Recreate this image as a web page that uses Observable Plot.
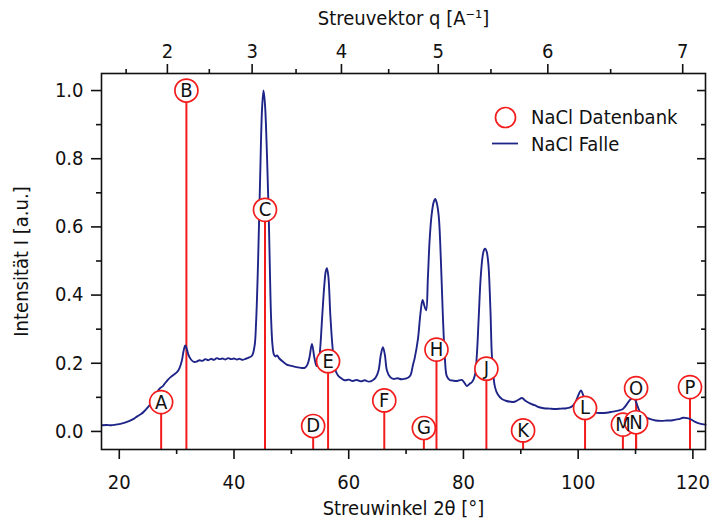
<!DOCTYPE html>
<html><head><meta charset="utf-8">
<script src="https://cdn.jsdelivr.net/npm/d3@7"></script>
<script src="https://cdn.jsdelivr.net/npm/@observablehq/plot@0.6"></script>
<style>
body{margin:0;background:#fff;}
#wrap{position:relative;width:712px;height:521px;}
.leg{position:absolute;font-family:'DejaVu Sans Condensed','DejaVu Sans',sans-serif;font-size:20px;color:#111;line-height:1;white-space:nowrap;}
</style>
</head><body><div id="wrap"></div>
<script>
// ---- data ----
const lambda = 1.5406; // Cu K-alpha, Å
const peakLabels = ["A","B","C","D","E","F","G","H","J","K","L","M","N","O","P"];
const peakAngles = [27.3,31.7,45.4,53.8,56.4,66.2,73.1,75.3,84.0,90.4,101.2,107.8,110.1,110.1,119.5];
const peakIntensities = [0.086,1.0,0.65,0.016,0.206,0.091,0.01,0.24,0.184,0.003,0.069,0.02,0.027,0.127,0.13];

const curveAngles = [17.0,17.8,18.6,19.4,20.2,21.0,21.8,22.5,23.2,23.8,24.4,25.0,25.5,26.0,26.5,26.85,27.2,27.6,28.0,28.5,29.0,29.6,30.1,30.5,30.9,31.2,31.5,31.8,32.1,32.5,33.0,33.5,34.0,34.5,35.0,35.5,36.0,36.5,37.0,37.5,38.0,38.5,39.0,39.5,40.0,40.5,41.0,41.5,42.0,42.5,43.13,43.58,43.85,44.2,44.55,44.9,45.15,45.4,45.75,46.03,46.25,46.45,46.7,46.95,47.2,47.5,47.9,48.5,49.2,49.8,50.5,51.2,51.8,52.4,52.8,53.17,53.59,54.0,54.4,54.74,55.04,55.35,55.75,56.0,56.2,56.45,56.8,57.18,57.6,58.1,58.7,59.3,60.0,60.7,61.4,62.1,62.8,63.5,64.2,64.7,65.2,65.6,65.96,66.3,66.66,67.2,67.8,68.5,69.2,69.9,70.4,70.8,71.2,71.5,72.06,72.5,72.87,73.2,73.5,73.8,74.1,74.45,74.8,75.08,75.35,75.7,76.05,76.4,76.75,77.1,77.6,78.2,78.9,79.7,80.2,80.6,81.1,81.5,82.0,82.35,82.65,83.0,83.35,83.6,83.8,84.05,84.35,84.7,85.0,85.5,86.0,86.7,87.4,88.2,88.9,89.6,90.2,90.8,91.6,92.4,93.2,94.0,95.0,96.0,97.0,98.0,98.8,99.5,100.0,100.5,100.9,101.5,102.2,103.0,104.0,105.0,106.0,107.0,107.8,108.5,109.0,109.5,109.9,110.4,111.0,111.8,112.6,113.5,114.5,115.5,116.5,117.5,118.3,119.0,119.7,120.4,121.2,122.2];
const curveIntensities = [0.018,0.019,0.018,0.020,0.022,0.026,0.031,0.037,0.045,0.051,0.060,0.071,0.082,0.098,0.112,0.122,0.128,0.133,0.142,0.152,0.160,0.168,0.175,0.186,0.207,0.235,0.252,0.240,0.223,0.211,0.204,0.205,0.209,0.207,0.212,0.209,0.213,0.210,0.215,0.212,0.214,0.211,0.215,0.212,0.214,0.211,0.213,0.210,0.213,0.216,0.222,0.250,0.320,0.500,0.740,0.950,1.0,0.960,0.810,0.650,0.480,0.340,0.255,0.226,0.220,0.223,0.214,0.205,0.196,0.193,0.190,0.188,0.186,0.187,0.196,0.218,0.257,0.218,0.192,0.200,0.247,0.330,0.430,0.470,0.479,0.455,0.340,0.247,0.185,0.165,0.156,0.150,0.152,0.148,0.151,0.147,0.150,0.146,0.150,0.158,0.179,0.225,0.247,0.225,0.179,0.160,0.154,0.156,0.153,0.155,0.158,0.166,0.195,0.215,0.27,0.345,0.386,0.368,0.355,0.450,0.560,0.635,0.672,0.682,0.670,0.630,0.510,0.345,0.220,0.162,0.151,0.149,0.148,0.151,0.142,0.133,0.140,0.145,0.165,0.228,0.330,0.450,0.515,0.533,0.536,0.528,0.490,0.360,0.210,0.130,0.108,0.095,0.090,0.087,0.087,0.093,0.098,0.090,0.082,0.077,0.071,0.068,0.067,0.066,0.067,0.068,0.072,0.085,0.105,0.120,0.105,0.080,0.062,0.055,0.054,0.055,0.058,0.061,0.066,0.080,0.092,0.099,0.094,0.072,0.050,0.042,0.036,0.032,0.031,0.032,0.033,0.036,0.040,0.039,0.035,0.028,0.023,0.020];

const xTicks = [20,40,60,80,100,120];
const xMinorTicks = [30,50,70,90,110];
const yTicks = [0,0.2,0.4,0.6,0.8,1.0];
const yMinorTicks = [0.1,0.3,0.5,0.7,0.9];
const qTicks = [2,3,4,5,6,7];
const qMinorTicks = [1.5,2.5,3.5,4.5,5.5,6.5];

const xTitle = "Streuwinkel 2θ [°]";
const yTitle = "Intensität I [a.u.]";
const topTitle = "Streuvektor q [A⁻¹]";
const seriesNames = ["NaCl Datenbank","NaCl Falle"];

// ---- build ----
const qToAngle = q => 2*Math.asin(q*lambda/(4*Math.PI))*180/Math.PI;
const angleToQ = a => 4*Math.PI*Math.sin(a*Math.PI/360)/lambda;
const peaks = peakLabels.map((l,i)=>({label:l, angle:peakAngles[i], intensity:peakIntensities[i]}));
const curve = curveAngles.map((a,i)=>({angle:a, intensity:curveIntensities[i]}));

const RED = "#f21c1c", NAVY = "#1f2588", INK = "#111";
const yDom = [-0.053, 1.05];
const FONT = "'DejaVu Sans Condensed','DejaVu Sans',sans-serif";

const chart = Plot.plot({
  width: 712, height: 521,
  marginLeft: 101, marginRight: 7, marginTop: 73, marginBottom: 72,
  style: {fontFamily: FONT, fontSize: "20px", color: INK, background: "white", overflow: "visible"},
  x: {domain: [16.9, 122.2]},
  y: {domain: yDom},
  marks: [
    Plot.ruleX(peaks, {x: "angle", y1: yDom[0], y2: "intensity", stroke: RED, strokeWidth: 2}),
    Plot.line(curve, {x: "angle", y: "intensity", stroke: NAVY, strokeWidth: 1.9, curve: "catmull-rom"}),
    Plot.dot(peaks, {x: "angle", y: "intensity", r: 11.5, fill: "white", stroke: RED, strokeWidth: 1.7}),
    Plot.text(peaks, {x: "angle", y: "intensity", text: "label", fill: INK, fontSize: 20}),
    Plot.frame({stroke: INK, strokeWidth: 1.6}),
    Plot.axisX({anchor: "bottom", ticks: xTicks, tickSize: 10, tickPadding: 15, tickFormat: d => String(d), label: null, strokeWidth: 1.6}),
    Plot.axisX({anchor: "bottom", ticks: xMinorTicks, tickSize: 5, tickFormat: () => "", label: null, strokeWidth: 1.6}),
    Plot.axisX({anchor: "top", ticks: qTicks.map(qToAngle), tickSize: 10, tickPadding: 6, tickFormat: d => String(Math.round(angleToQ(d))), label: null, strokeWidth: 1.6}),
    Plot.axisX({anchor: "top", ticks: qMinorTicks.map(qToAngle), tickSize: 5, tickFormat: () => "", label: null, strokeWidth: 1.6}),
    Plot.axisY({anchor: "left", ticks: yTicks, tickSize: 10, tickPadding: 8, tickFormat: d3.format(".1f"), label: null, strokeWidth: 1.6}),
    Plot.axisY({anchor: "left", ticks: yMinorTicks, tickSize: 5, tickFormat: () => "", label: null, strokeWidth: 1.6}),
    Plot.axisY({anchor: "right", ticks: yTicks, tickSize: -9, tickFormat: () => "", label: null, strokeWidth: 1.6}),
    Plot.axisY({anchor: "right", ticks: yMinorTicks, tickSize: -5, tickFormat: () => "", label: null, strokeWidth: 1.6}),
    Plot.text([xTitle], {frameAnchor: "bottom", lineAnchor: "middle", textAnchor: "middle", dy: 59, text: d => d, fill: INK, fontSize: 20}),
    Plot.text([topTitle], {frameAnchor: "top", lineAnchor: "middle", textAnchor: "middle", dy: -55, text: d => d, fill: INK, fontSize: 20}),
    Plot.text([yTitle], {frameAnchor: "left", lineAnchor: "middle", textAnchor: "middle", dx: -80, rotate: -90, text: d => d, fill: INK, fontSize: 20})
  ]
});
const wrap = document.getElementById("wrap");
wrap.appendChild(chart);

// legend overlay
const leg = document.createElement("div");
leg.style.cssText = "position:absolute;left:0;top:0;width:712px;height:521px;pointer-events:none;";
leg.innerHTML = `
<svg width="712" height="521" style="position:absolute;left:0;top:0">
  <circle cx="505.5" cy="117.5" r="10" fill="white" stroke="${RED}" stroke-width="1.7"></circle>
  <line x1="492" x2="518" y1="143.5" y2="143.5" stroke="${NAVY}" stroke-width="1.8"></line>
</svg>
<div class="leg" style="left:531px;top:107px">${seriesNames[0]}</div>
<div class="leg" style="left:531px;top:134px">${seriesNames[1]}</div>`;
wrap.appendChild(leg);
</script>
</body></html>
